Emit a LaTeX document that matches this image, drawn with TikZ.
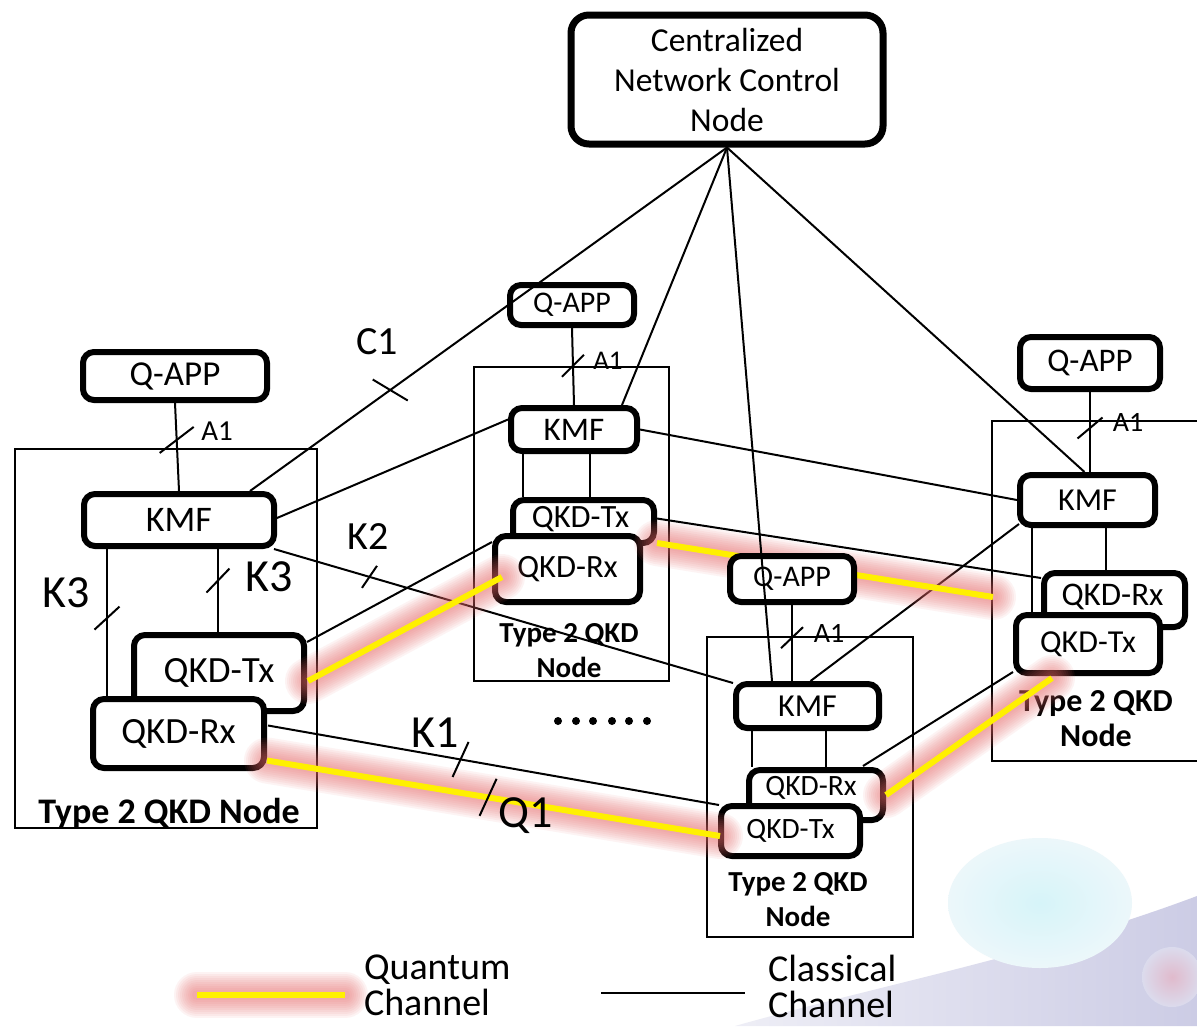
\documentclass[tikz,border=0pt]{standalone}
\usepackage{fontspec}
\setmainfont{Carlito}
\usetikzlibrary{calc}
\newcommand\fsz[2]{\fontsize{#1pt}{#2pt}\selectfont}
\definecolor{qyellow}{RGB}{255,240,0}
\definecolor{glow}{RGB}{232,105,105}
\definecolor{lav}{RGB}{204,204,229}
\definecolor{lavlight}{RGB}{238,238,246}
\definecolor{bubin}{RGB}{214,244,249}
\definecolor{bubout}{RGB}{236,247,250}
\definecolor{pinkbub}{RGB}{224,186,204}
% quantum channel: a yellow core over a soft red halo
\newcommand\qchan[2]{%
  \foreach \w in {46,42,...,10}{%
    \draw[line width=\w pt, draw=glow, opacity=0.075, line cap=round] (#1) -- (#2);}%
  \draw[line width=6pt, draw=qyellow] (#1) -- (#2);}
\begin{document}
\begin{tikzpicture}[x=1pt,y=-1pt,
  box/.style={draw, line width=6pt, rounded corners=11pt, fill=white, inner sep=0pt, align=center},
  grp/.style={draw, line width=2pt, inner sep=0pt, outer sep=0pt},
  wire/.style={line width=2pt},
  tickmark/.style={line width=2pt},
  lbl/.style={inner sep=0pt, outer sep=0pt},
  typelbl/.style={lbl, align=center, font=\bfseries\fsz{#1}{35}},
]
\fill[white] (0,0) rectangle (1197,1026);
\useasboundingbox (0,0) rectangle (1197,1026);

% backdrop: swoosh and bubbles
\shade[left color=lavlight, right color=lav] (735,1026) .. controls (880,985) and (1040,955) .. (1197,896) -- (1197,1026) -- cycle;
\shade[inner color=bubin, outer color=bubout] (1040,903) ellipse [x radius=92pt, y radius=65pt];
\shade[inner color=pinkbub, outer color=lav!70!white] (1172,977) circle [radius=30pt];

% group frames
\node[grp, minimum width=302, minimum height=379] (lgrp) at (166,638.5) {};
\node[grp, minimum width=195, minimum height=314] (mgrp) at (571.5,524) {};
\node[grp, minimum width=206, minimum height=300] (bgrp) at (810,787) {};
\node[grp, draw=none, minimum width=205, minimum height=340] (rgrp) at (1094.5,591) {};
\draw[line width=2pt] (rgrp.north east) -- (rgrp.north west) -- (rgrp.south west) -- (rgrp.south east);

% boxes whose anchors are needed by the channels below
\path
  node[box, minimum width=312, minimum height=129, line width=7pt, rounded corners=18pt, font=\fsz{33.5}{40}] (cnc) at (727,79.5) {Centralized\\Network Control\\Node}
  node[box, minimum width=184, minimum height=48, font=\fsz{35}{40}] (lqapp) at (175,376) {Q-APP}
  node[box, minimum width=190, minimum height=52, font=\fsz{36}{40}] (lkmf) at (179,520) {KMF}
  node[box, minimum width=124, minimum height=40, font=\fsz{30}{36}] (mqapp) at (572,305) {Q-APP}
  node[box, minimum width=126, minimum height=43, font=\fsz{33}{36}] (mkmf) at (574,429.5) {KMF}
  node[box, minimum width=143, minimum height=44, font=\fsz{32}{36}] (bkmf) at (807.5,706) {KMF}
  node[box, minimum width=140, minimum height=52, font=\fsz{33}{36}] (rqapp) at (1090,363) {Q-APP}
  node[box, minimum width=135, minimum height=50, font=\fsz{32}{36}] (rkmf) at (1087.5,500) {KMF};

% classical channels under the boxes
\draw[wire] (cnc.south) -- ($(lkmf.north east)+(-27,0)$);
\draw[wire] (cnc.south) -- ($(mkmf.north east)+(-18,0)$);
\draw[wire] (cnc.south) -- ($(rkmf.north)+(-3,0)$);
\draw[wire] ($(lkmf.east)+(0,-2)$) -- ($(mkmf.west)+(0,-10)$);
\draw[wire] ($(lkmf.south east)+(-3,0)$) -- coordinate[pos=0.208] (tk2) ($(bkmf.north west)+(0,2)$);
\draw[wire] (mkmf.east) -- (rkmf.west);
\draw[wire] ($(bkmf.north)+(3,0)$) -- ($(rkmf.south west)+(2,-4)$);

% A1 links
\draw[wire] (lqapp.south) -- coordinate[pos=0.42] (ta1l) (lkmf.north);
\draw[wire] (mqapp.south) -- coordinate[pos=0.49] (ta1m) (mkmf.north);
\draw[wire] (rqapp.south) -- coordinate[pos=0.45] (ta1r) (rqapp.south |- rkmf.north);

% QKD boxes, rear ones first
\node[box, minimum width=170, minimum height=76, font=\fsz{37}{40}] (ltx) at (219,673) {QKD-Tx};
\node[box, minimum width=171, minimum height=69, font=\fsz{37}{40}] (lrx) at (178.5,733.5) {QKD-Rx};
\node[box, minimum width=141, minimum height=43, label={[font=\fsz{32.5}{36}, yshift=2pt, xshift=-3pt]center:QKD-Tx}] (mtx) at (583.5,521.5) {};
\node[box, minimum width=145, minimum height=66, font=\fsz{32.5}{36}] (mrx) at (567.5,569) {QKD-Rx};
\node[box, minimum width=134, minimum height=50, label={[font=\fsz{29.5}{36}, yshift=7pt, xshift=-5pt]center:QKD-Rx}] (brx) at (816,795) {};
\node[box, minimum width=139, minimum height=50, font=\fsz{29.5}{36}] (btx) at (790.5,831) {QKD-Tx};
\node[box, minimum width=141, minimum height=54, label={[font=\fsz{33}{36}, yshift=3pt, xshift=-2pt]center:QKD-Rx}] (rrx) at (1114.5,600) {};
\node[box, minimum width=144, minimum height=58, font=\fsz{32}{36}] (rtx) at (1088,644) {QKD-Tx};

% links from KMF to the QKD modules
\coordinate (vl1) at ($(lkmf.south west)+(26,0)$);
\coordinate (vl2) at ($(lkmf.south west)+(137,0)$);
\draw[wire] (vl1) -- coordinate[pos=0.47] (tk3a) (vl1 |- lrx.north);
\draw[wire] (vl2) -- coordinate[pos=0.38] (tk3b) (vl2 |- ltx.north);
\coordinate (vm1) at ($(mkmf.south west)+(15,0)$);
\coordinate (vm2) at ($(mkmf.south west)+(82,0)$);
\draw[wire] (vm1) -- (vm1 |- mtx.north);
\draw[wire] (vm2) -- (vm2 |- mtx.north);
\coordinate (vb1) at ($(bkmf.south west)+(19,0)$);
\coordinate (vb2) at ($(bkmf.south west)+(93,0)$);
\draw[wire] (vb1) -- (vb1 |- brx.north);
\draw[wire] (vb2) -- (vb2 |- brx.north);
\coordinate (vr1) at ($(rkmf.south west)+(15,0)$);
\coordinate (vr2) at ($(rkmf.south west)+(89,0)$);
\draw[wire] (vr1) -- (vr1 |- rtx.north);
\draw[wire] (vr2) -- (vr2 |- rrx.north);

% classical channels between QKD modules
\draw[wire] ($(ltx.east)+(0,-31)$) -- ($(mrx.west)+(0,-27)$);
\draw[wire] ($(lrx.east)+(1,-8)$) -- coordinate[pos=0.427] (tk1) ($(btx.north west)+(1,2)$);
\draw[wire] ($(mtx.east)+(0,-3)$) -- ($(rrx.north west)+(0,8)$);
\draw[wire] ($(brx.north east)+(-23,-1)$) -- ($(rtx.south west)+(0,-4)$);

% node type captions
\node[lbl, anchor=base, font=\bfseries\fsz{36}{40}] (ltype) at (169,823) {Type 2 QKD Node};
\node[typelbl=29, anchor=north] (mtype) at (569,623) {Type 2 QKD\\Node};
\node[typelbl=29, anchor=north] (btype) at (798,872) {Type 2 QKD\\Node};
\node[typelbl=32, anchor=north] (rtype) at (1096,691) {Type 2 QKD\\Node};

% quantum channels
\coordinate (qa1) at ($(ltx.east)+(1,8)$);   \coordinate (qa2) at ($(mrx.west)+(10,8)$);
\coordinate (qb1) at ($(lrx.east)+(0,27)$);  \coordinate (qb2) at ($(btx.west)+(2,5)$);
\coordinate (qc1) at ($(mtx.south east)+(0,-3)$); \coordinate (qc2) at ($(rgrp.west)+(1,6)$);
\coordinate (qd1) at (brx.east);             \coordinate (qd2) at ($(rtx.south)+(-36,2)$);
\qchan{qa1}{qa2}
\qchan{qb1}{qb2}
\qchan{qc1}{qc2}
\qchan{qd1}{qd2}
\path (qb1) -- coordinate[pos=0.488] (tq1) (qb2);

% Q-APP of the lower node sits over the quantum channel
\node[box, minimum width=124, minimum height=46, font=\fsz{30}{36}] (bqapp) at (792,579) {Q-APP};
\draw[wire] (cnc.south) -- ($(bkmf.north west)+(39,0)$);
\draw[wire] (bqapp.south) -- coordinate[pos=0.43] (ta1b) (bqapp.south |- bkmf.north);
\coordinate (tc1) at ($(cnc.south)!0.706!($(lkmf.north east)+(-27,0)$)$);

% reference point markers
\draw[tickmark] ($(ta1l)+(-17,13)$) -- ($(ta1l)+(17,-13)$);
\draw[tickmark] ($(ta1m)+(-11,11)$) -- ($(ta1m)+(11,-11)$);
\draw[tickmark] ($(ta1b)+(-11,10.5)$) -- ($(ta1b)+(11,-10.5)$);
\draw[tickmark] ($(ta1r)+(-12.5,10.5)$) -- ($(ta1r)+(12.5,-10.5)$);
\draw[tickmark] ($(tk3a)+(-12.5,11.5)$) -- ($(tk3a)+(12.5,-11.5)$);
\draw[tickmark] ($(tk3b)+(-11.5,12)$) -- ($(tk3b)+(11.5,-12)$);
\draw[tickmark] ($(tc1)+(-17.5,-10.5)$) -- ($(tc1)+(17.5,10.5)$);
\draw[tickmark] ($(tk2)+(-7.5,11)$) -- ($(tk2)+(7.5,-11)$);
\draw[tickmark] ($(tk1)+(-8,17.5)$) -- ($(tk1)+(8,-17.5)$);
\draw[tickmark] ($(tq1)+(-8.5,18.5)$) -- ($(tq1)+(8.5,-18.5)$);

% reference point names
\node[lbl, font=\fsz{29}{32}] (a1l) at (217,431) {A1};
\node[lbl, font=\fsz{27}{32}] (a1m) at (608,361) {A1};
\node[lbl, font=\fsz{28}{32}] (a1b) at (829,633) {A1};
\node[lbl, font=\fsz{28}{32}] (a1r) at (1128,422) {A1};
\node[lbl, font=\fsz{46}{50}] (k3a) at (66,593) {K3};
\node[lbl, font=\fsz{46}{50}] (k3b) at (269,577) {K3};
\node[lbl, font=\fsz{40}{44}] (c1) at (377,342) {C1};
\node[lbl, font=\fsz{40}{44}] (k2) at (368,537) {K2};
\node[lbl, font=\fsz{46}{50}] (k1) at (435,733) {K1};
\node[lbl, font=\fsz{46}{50}] (q1) at (526,816) {Q1};

% further nodes
\foreach \x in {558,576,593,612,629,647} \fill (\x,721) circle [radius=4pt];

% legend
\coordinate (lgq1) at (197,995); \coordinate (lgq2) at (345,995);
\qchan{lgq1}{lgq2}
\coordinate (lgc1) at (601,993); \coordinate (lgc2) at (745,993);
\draw[wire] (lgc1) -- (lgc2);
\node[lbl, anchor=north west, align=left, font=\fsz{38}{36}] (lgqt) at (364,955) {Quantum\\Channel};
\node[lbl, anchor=north west, align=left, font=\fsz{38}{36}] (lgct) at (768,955) {Classical\\Channel};
\end{tikzpicture}
\end{document}
